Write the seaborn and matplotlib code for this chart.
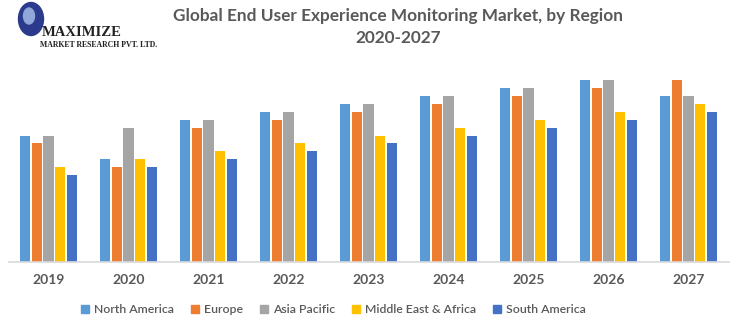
import matplotlib
matplotlib.use("Agg")
import matplotlib.pyplot as plt
import matplotlib.patches as mpatches
import seaborn as sns
import pandas as pd

years = ["2019", "2020", "2021", "2022", "2023", "2024", "2025", "2026", "2027"]
regions = ["North America", "Europe", "Asia Pacific", "Middle East & Africa", "South America"]
north_america = [12.6, 10.3, 14.2, 15.0, 15.8, 16.6, 17.4, 18.2, 16.6]
europe = [11.9, 9.5, 13.4, 14.2, 15.0, 15.8, 16.6, 17.4, 18.2]
asia_pacific = [12.6, 13.4, 14.2, 15.0, 15.8, 16.6, 17.4, 18.2, 16.6]
middle_east_africa = [9.5, 10.3, 11.1, 11.9, 12.6, 13.4, 14.2, 15.0, 15.8]
south_america = [8.7, 9.5, 10.3, 11.1, 11.9, 12.6, 13.4, 14.2, 15.0]
colors = ["#5B9BD5", "#ED7D31", "#A5A5A5", "#FFC000", "#4472C4"]

series = [north_america, europe, asia_pacific, middle_east_africa, south_america]
df = pd.DataFrame(
    [(y, r, v) for r, vals in zip(regions, series) for y, v in zip(years, vals)],
    columns=["Year", "Region", "Value"],
)

sns.set_theme(style="white")
plt.rcParams["font.family"] = ["Lato", "DejaVu Sans"]
text_color = "#595959"

fig = plt.figure(figsize=(7.36, 3.29), dpi=100)
ax = fig.add_axes([8.5 / 736, 67 / 329, 720 / 736, 200 / 329])

sns.barplot(data=df, x="Year", y="Value", hue="Region", hue_order=regions,
            palette=colors, width=0.74, gap=0.15, ax=ax, legend=False,
            saturation=1, edgecolor="none")

ax.set_xlim(-0.5, 8.5)
ax.set_ylim(0, 20)
ax.set_xlabel("")
ax.set_ylabel("")
ax.set_yticks([])
for s in ["top", "right", "left"]:
    ax.spines[s].set_visible(False)
ax.spines["bottom"].set_color("#D9D9D9")
ax.spines["bottom"].set_linewidth(1.2)
ax.tick_params(axis="x", length=0, pad=9)
for lbl in ax.get_xticklabels():
    lbl.set_fontsize(10)
    lbl.set_fontweight("bold")
    lbl.set_color(text_color)

fig.text(0.541, 0.952, "Global End User Experience Monitoring Market, by Region",
         ha="center", va="center", fontsize=12.4, fontweight="bold", color=text_color)
fig.text(0.541, 0.884, "2020-2027", ha="center", va="center",
         fontsize=12.4, fontweight="bold", color=text_color)

handles = [mpatches.Patch(color=c, label=r) for c, r in zip(colors, regions)]
leg = fig.legend(handles=handles, loc="center", bbox_to_anchor=(0.453, 0.058),
                 ncol=5, frameon=False, fontsize=8.8, handlelength=0.7,
                 handleheight=0.7, handletextpad=0.4, columnspacing=1.35)
for t in leg.get_texts():
    t.set_color(text_color)
    t.set_fontweight("semibold")

# company logo
fig.patches.append(mpatches.Ellipse((31 / 736, 1 - 19 / 329), 25 / 736, 33 / 329,
                                    transform=fig.transFigure, color="#2B3A8C", zorder=5))
fig.patches.append(mpatches.Ellipse((29 / 736, 1 - 16 / 329), 11 / 736, 16 / 329,
                                    transform=fig.transFigure, color="#8FA8D8", zorder=6))
fig.text(42 / 736, 1 - 33 / 329, "MAXIMIZE", ha="left", va="center", zorder=7,
         fontsize=10.5, family="Liberation Serif", color="#222222", fontweight="bold")
fig.text(40 / 736, 1 - 45 / 329, "MARKET RESEARCH PVT. LTD.", ha="left", va="center",
         fontsize=5.6, family="Liberation Serif", color="#222222", fontweight="bold")

fig.savefig("out.png", dpi=100)
